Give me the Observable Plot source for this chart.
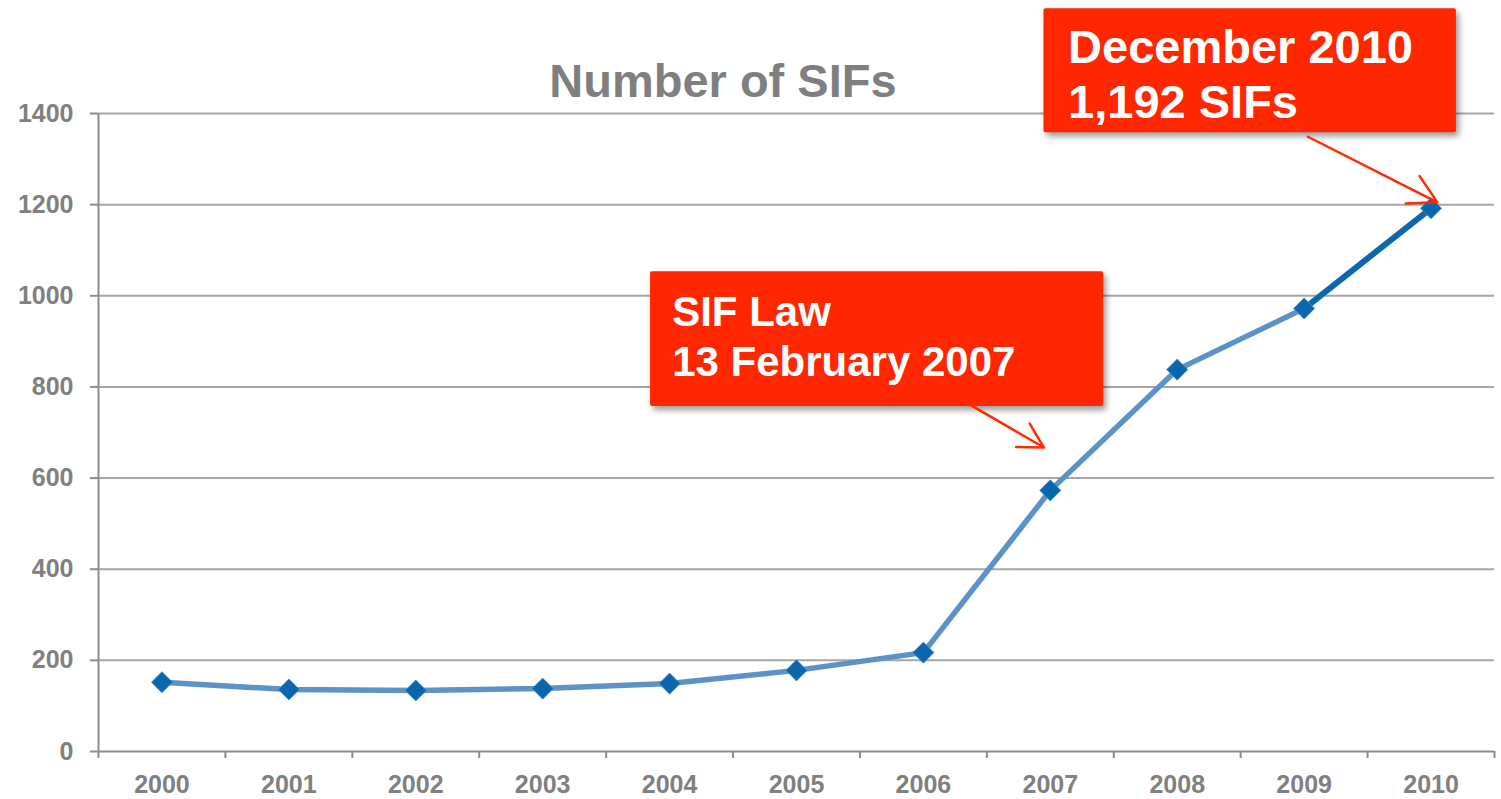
<!DOCTYPE html>
<html>
<head>
<meta charset="utf-8">
<script src="https://cdn.jsdelivr.net/npm/d3@7"></script>
<script src="https://cdn.jsdelivr.net/npm/@observablehq/plot@0.6"></script>
<style>
  body { margin: 0; background: #fff; }
  #chart svg { display: block; }
</style>
</head>
<body>
<div id="chart"></div>
<script>
// ---- data ----
const years = [2000, 2001, 2002, 2003, 2004, 2005, 2006, 2007, 2008, 2009, 2010];
const sifCounts = [152, 136, 134, 138, 149, 178, 217, 573, 838, 972, 1192];
const yTicks = [0, 200, 400, 600, 800, 1000, 1200, 1400];
const chartTitle = "Number of SIFs";
const annotationLabels = ["December 2010\n1,192 SIFs", "SIF Law\n13 February 2007"];

// ---- annotation layout (data units) ----
const boxLayout = [
  {x1: 2006.95, x2: 2010.20, y1: 1358, y2: 1630, tx: 2007.14, ty: 1391, fontSize: 47, lineHeight: 1.17},
  {x1: 2003.85, x2: 2007.42, y1: 757, y2: 1053, tx: 2004.02, ty: 825, fontSize: 42, lineHeight: 1.19}
];
const arrowLayout = [
  {x1: 2009.03, y1: 1349, x2: 2010.05, y2: 1205},
  {x1: 2006.38, y1: 759, x2: 2006.95, y2: 667}
];
const titleAnchor = {x: 2004.42, y: 1437};

const data = years.map((year, i) => ({year, value: sifCounts[i]}));
const boxes = boxLayout.map((b, i) => ({...b, label: annotationLabels[i]}));
const xBoundaries = years.map(y => y - 0.5).concat([years[years.length - 1] + 0.5]);

const axisGray = "#8c8c8c";
const textGray = "#808080";
const font = "'Liberation Sans', Arial, Helvetica, sans-serif";

const chart = Plot.plot({
  width: 1501,
  height: 799,
  marginLeft: 98,
  marginRight: 7,
  marginTop: 113,
  marginBottom: 48,
  style: {fontFamily: font, background: "white", color: textGray},
  x: {domain: [xBoundaries[0], xBoundaries[xBoundaries.length - 1]], axis: null},
  y: {domain: [0, 1400], axis: null},
  marks: [
    Plot.ruleY(yTicks.filter(d => d > 0), {stroke: "#a6a6a6", strokeWidth: 2}),
    Plot.ruleY([0], {stroke: axisGray, strokeWidth: 2}),
    Plot.ruleX([xBoundaries[0]], {y1: 0, y2: 1400, stroke: axisGray, strokeWidth: 2}),
    Plot.axisY({ticks: yTicks, tickSize: 8, tickPadding: 17, tickFormat: d => String(d),
      stroke: axisGray, strokeWidth: 2, fill: textGray, fontSize: 25, fontWeight: "bold", label: null}),
    Plot.axisX({ticks: xBoundaries, tickSize: 7, tickFormat: () => "", stroke: axisGray, strokeWidth: 2, label: null}),
    Plot.axisX({ticks: years, tickSize: 0, tickPadding: 24, tickFormat: d => String(d),
      fill: textGray, fontSize: 25, fontWeight: "bold", label: null}),
    Plot.text([chartTitle], {x: () => titleAnchor.x, y: () => titleAnchor.y, text: d => d,
      textAnchor: "middle", lineAnchor: "bottom", fontSize: 47, fontWeight: "bold", fill: "#7f7f7f"}),
    Plot.line(data.slice(0, data.length - 1), {x: "year", y: "value", stroke: "#5b92c8", strokeWidth: 5.5}),
    Plot.line(data.slice(data.length - 2), {x: "year", y: "value", stroke: "#0b68ae", strokeWidth: 6}),
    Plot.dot(data, {x: "year", y: "value", symbol: "diamond2", r: 9.5, fill: "#0b67ad", stroke: "#4d8cc4", strokeWidth: 0.8}),
    Plot.rect(boxes, {x1: "x1", x2: "x2", y1: "y1", y2: "y2", fill: "#ff2600", rx: 2,
      imageFilter: "drop-shadow(3px 4px 3px rgba(0,0,0,0.4))"}),
    Plot.arrow(arrowLayout, {x1: "x1", y1: "y1", x2: "x2", y2: "y2", stroke: "#ff2a00",
      strokeWidth: 2.5, headLength: 19, headAngle: 58}),
    Plot.text([boxes[0]], {x: "tx", y: "ty", text: "label", textAnchor: "start", lineAnchor: "bottom",
      fontSize: boxes[0].fontSize, lineHeight: boxes[0].lineHeight, fontWeight: "bold", fill: "white"}),
    Plot.text([boxes[1]], {x: "tx", y: "ty", text: "label", textAnchor: "start", lineAnchor: "bottom",
      fontSize: boxes[1].fontSize, lineHeight: boxes[1].lineHeight, fontWeight: "bold", fill: "white"})
  ]
});
document.getElementById("chart").appendChild(chart);
</script>
</body>
</html>
